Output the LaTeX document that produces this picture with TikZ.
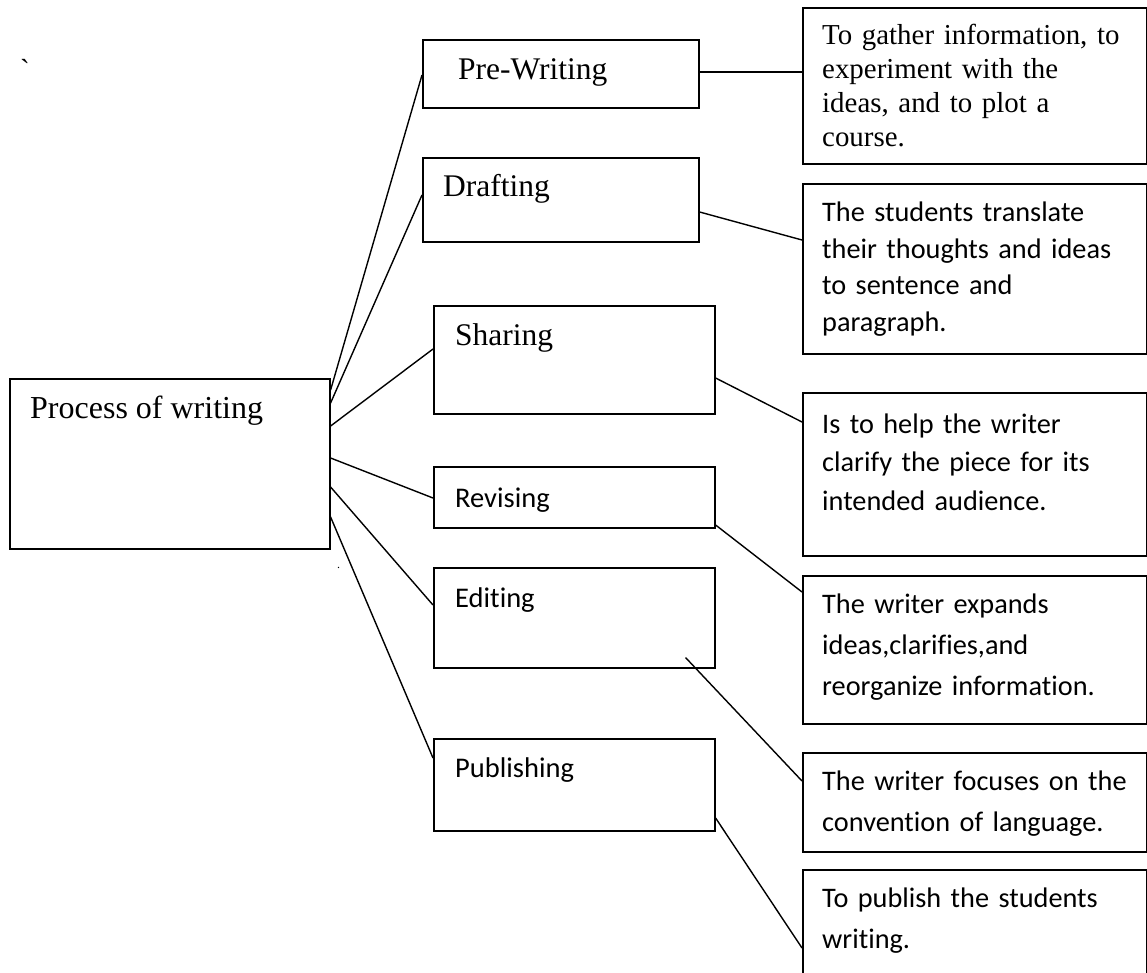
\documentclass[tikz,border=0pt]{standalone}
\usepackage{fontspec}
\setmainfont{Liberation Serif}
\newfontfamily\calfont[Ligatures=NoCommon]{Carlito}
\usetikzlibrary{calc}
\tikzset{
  box/.style={draw,line width=1.6pt,rectangle,anchor=north west,inner sep=0pt},
  conn/.style={line width=1.4pt},
  sertext/.style={anchor=base west,inner sep=0pt,font=\fontsize{31.5}{36}\selectfont},
  caltext/.style={anchor=base west,inner sep=0pt,font=\calfont\fontsize{28.5}{36}\selectfont},
  desc/.style={anchor=base west,inner sep=0pt,text width=320pt,align=left}
}
\begin{document}
\begin{tikzpicture}[x=1pt,y=-1pt]
\useasboundingbox (0,0) rectangle (1147,973);
\clip (0,0) rectangle (1147,973);
% main box
\node[box,minimum width=320pt,minimum height=170pt] (proc) at (9,378) {};
\node[sertext,font=\fontsize{32}{36}\selectfont] (proct) at (30,418) {Process of writing};
% stage boxes
\node[box,minimum width=276pt,minimum height=68pt] (prew) at (422,39) {};
\node[sertext] (prewt) at (458,80) {Pre-Writing};
\node[box,minimum width=276pt,minimum height=84pt] (draft) at (422,157) {};
\node[sertext] (draftt) at (443,197) {Drafting};
\node[box,minimum width=281pt,minimum height=108pt] (share) at (433,305) {};
\node[sertext] (sharet) at (455,345) {Sharing};
\node[box,minimum width=281pt,minimum height=61pt] (revis) at (433,466) {};
\node[caltext] (revist) at (455,507) {Revising};
\node[box,minimum width=281pt,minimum height=100pt] (edit) at (433,567) {};
\node[caltext] (editt) at (455,607) {Editing};
\node[box,minimum width=281pt,minimum height=92pt] (publ) at (433,738) {};
\node[caltext] (publt) at (455,777) {Publishing};
% description boxes
\node[box,minimum width=343.5pt,minimum height=156pt] (d1) at (802,7) {};
\node[desc,font=\fontsize{28.9}{34}\selectfont] (d1t) at (822,45) {To gather information, to\\experiment with the\\ideas, and to plot a\\course.};
\node[box,minimum width=343.5pt,minimum height=170pt] (d2) at (802,183) {};
\node[desc,font=\calfont\fontsize{28.3}{36.5}\selectfont] (d2t) at (822,222) {The students translate\\their thoughts and ideas\\to sentence and\\paragraph.};
\node[box,minimum width=343.5pt,minimum height=163pt] (d3) at (802,392) {};
\node[desc,font=\calfont\fontsize{28.3}{38.5}\selectfont] (d3t) at (822,433) {Is to help the writer\\clarify the piece for its\\intended audience.};
\node[box,minimum width=343.5pt,minimum height=148pt] (d4) at (802,575) {};
\node[desc,font=\calfont\fontsize{28.3}{41}\selectfont] (d4t) at (822,613) {The writer expands\\ideas,clarifies,and\\reorganize information.};
\node[box,minimum width=343.5pt,minimum height=99pt] (d5) at (802,752) {};
\node[desc,font=\calfont\fontsize{28.3}{41}\selectfont] (d5t) at (822,790) {The writer focuses on the\\convention of language.};
\node[box,minimum width=343.5pt,minimum height=140pt] (d6) at (802,869) {};
\node[desc,font=\calfont\fontsize{28.3}{41}\selectfont] (d6t) at (822,907) {To publish the students\\writing.};
% stray marks
\node[anchor=base west,inner sep=0pt,font=\fontsize{29}{30}\selectfont] (grave) at (20,80) {\textasciigrave};
\node[anchor=base west,inner sep=0pt,font=\fontsize{12}{14}\selectfont] (dot) at (337,568) {.};
% connectors from main box
\draw[conn] ($(proc.north east)+(0,12)$) -- ($(prew.north west)+(0,36)$);
\draw[conn] ($(proc.north east)+(0,25)$) -- ($(draft.north west)+(0,38)$);
\draw[conn] ($(proc.north east)+(0,48)$) -- ($(share.north west)+(0,44)$);
\draw[conn] ($(proc.north east)+(0,80)$) -- ($(revis.north west)+(0,32)$);
\draw[conn] ($(proc.north east)+(0,109)$) -- ($(edit.north west)+(0,38)$);
\draw[conn] ($(proc.north east)+(0,139)$) -- ($(publ.north west)+(0,20)$);
% connectors to descriptions
\draw[conn] ($(prew.north east)+(0,33)$) -- ($(d1.north west)+(0,65)$);
\draw[conn] ($(draft.north east)+(0,55)$) -- ($(d2.north west)+(0,57)$);
\draw[conn] ($(share.north east)+(0,73)$) -- ($(d3.north west)+(0,30)$);
\draw[conn] ($(revis.north east)+(0,59)$) -- ($(d4.north west)+(0,17)$);
\draw[conn] ($(edit.south east)+(-30,-11)$) -- ($(d5.north west)+(0,29)$);
\draw[conn] ($(publ.north east)+(0,80)$) -- ($(d6.north west)+(0,79)$);
\end{tikzpicture}
\end{document}
